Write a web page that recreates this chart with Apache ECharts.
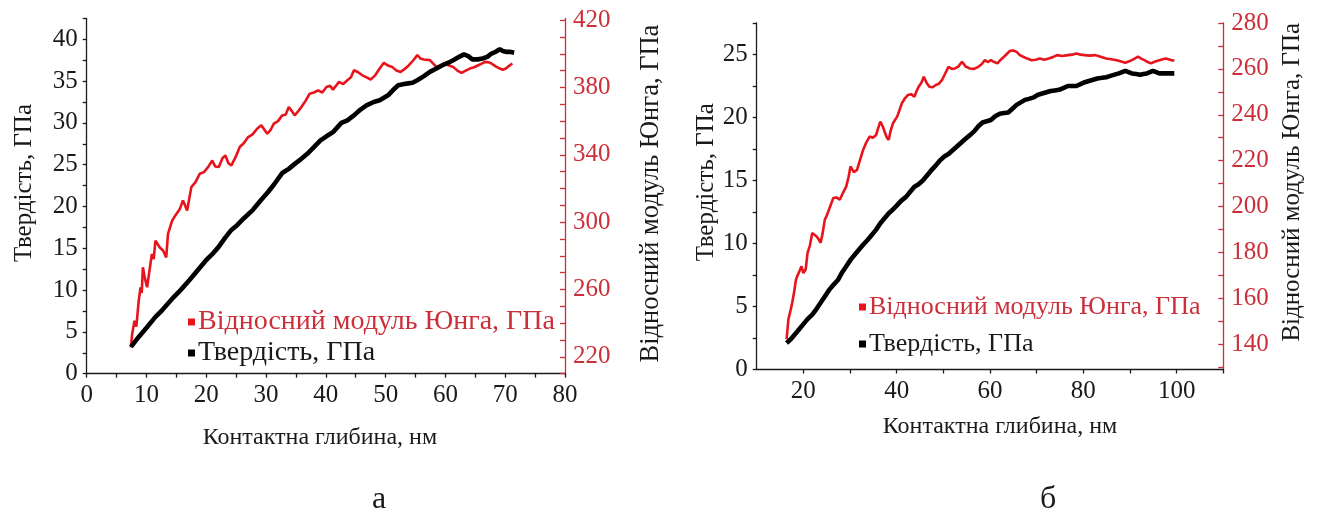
<!DOCTYPE html>
<html>
<head>
<meta charset="utf-8">
<script src="https://cdn.jsdelivr.net/npm/echarts@6/dist/echarts.min.js"></script>
<style>html,body{margin:0;padding:0;background:#fff}#c{width:1325px;height:515px}</style>
</head>
<body>
<div id="c"></div>
<script>
// ---------- names ----------
const nameModulus = 'Відносний модуль Юнга, ГПа';
const nameHardness = 'Твердість, ГПа';
const nameDepth = 'Контактна глибина, нм';
const panelLabels = ['а', 'б'];

// ---------- panel а : [depth nm, value] ----------
const hardnessA = [[7.4,3.2],[8.7,4.4],[10.0,5.5],[11.5,6.8],[12.5,7.5],[13.6,8.4],[14.6,9.2],[15.7,10.0],[17.2,11.2],[18.6,12.4],[20.0,13.6],[21.0,14.3],[22.1,15.2],[23.2,16.3],[24.2,17.2],[25.2,17.8],[26.3,18.6],[27.8,19.6],[29.2,20.8],[30.3,21.7],[31.3,22.6],[32.7,24.0],[33.8,24.5],[34.8,25.1],[35.9,25.7],[36.9,26.3],[38.0,27.1],[39.1,27.9],[40.1,28.4],[41.2,28.9],[42.6,30.0],[43.6,30.3],[44.7,30.9],[45.8,31.6],[46.8,32.1],[48.0,32.5],[49.0,32.7],[50.4,33.3],[51.2,33.9],[52.1,34.5],[53.5,34.7],[54.5,34.8],[55.3,35.1],[56.4,35.6],[57.4,36.1],[58.5,36.5],[59.5,36.9],[60.5,37.2],[61.3,37.5],[62.3,37.9],[63.1,38.2],[63.8,38.0],[64.5,37.6],[65.4,37.6],[66.2,37.7],[67.0,37.9],[67.7,38.3],[68.4,38.5],[69.1,38.8],[69.6,38.6],[70.1,38.5],[70.8,38.5],[71.5,38.4]];
const modulusA = [[7.4,225.6],[7.6,233.5],[8.0,241.4],[8.3,238],[8.7,253.3],[9.0,261.3],[9.2,258],[9.4,273.2],[9.7,267.2],[10.1,261.3],[10.5,271.2],[10.9,281.1],[11.2,278],[11.5,289.0],[12.2,285.1],[12.8,283],[13.3,279.1],[13.6,293.0],[14.3,301.0],[15.0,304.9],[15.6,308],[16.1,312.9],[16.8,306.9],[17.5,320.8],[18.2,323.8],[18.9,328.7],[19.6,329.7],[20.3,332.7],[21.0,336.6],[21.5,333],[22.1,332.7],[22.7,338],[23.2,339.6],[23.7,335],[24.2,333.7],[24.9,338.6],[25.6,344.6],[26.3,347],[27.0,350.5],[27.7,352],[28.5,355.5],[29.2,357.5],[29.7,355],[30.2,352.5],[30.8,355],[31.3,358.5],[32.0,360],[32.7,363.4],[33.3,364],[33.8,368.4],[34.3,366],[34.8,363.4],[35.4,366],[35.9,368.4],[36.6,372],[37.3,376.3],[38.0,377],[38.7,378.3],[39.4,377],[40.1,380.3],[40.7,381],[41.2,378.7],[41.7,381],[42.2,383.3],[42.9,382],[43.6,384.3],[44.2,386],[44.7,390.2],[45.4,389],[46.1,387.2],[46.8,386],[47.5,384.7],[48.2,387],[49.0,391.2],[49.7,394.6],[50.4,393],[51.1,392.2],[51.8,390],[52.5,389.2],[53.2,391],[53.9,393.2],[54.6,396],[55.3,399.2],[55.9,397],[56.4,396.6],[57.4,396.2],[58.0,394],[58.5,392.2],[59.2,393],[59.9,394.2],[60.6,393],[61.3,392.2],[62.0,390],[62.7,388.6],[63.4,390],[64.1,391.2],[64.8,392],[65.5,393.2],[66.0,394],[66.6,395.2],[67.2,395],[67.7,394.2],[68.4,392.5],[69.1,391.2],[69.6,390.5],[70.1,391.2],[70.7,393],[71.2,394.2]];

// ---------- panel б ----------
const hardnessB = [[16.4,2.1],[17.3,2.4],[18.2,2.8],[19.1,3.2],[20.0,3.6],[20.9,4.0],[21.9,4.35],[22.8,4.8],[23.7,5.3],[24.6,5.8],[25.5,6.3],[26.4,6.7],[27.4,7.1],[28.3,7.7],[29.2,8.2],[30.1,8.7],[31.0,9.1],[31.9,9.5],[32.8,9.9],[33.8,10.3],[34.7,10.7],[35.6,11.1],[36.5,11.6],[37.4,12.0],[38.3,12.4],[39.2,12.7],[40.1,13.05],[41.0,13.4],[42.0,13.7],[42.9,14.1],[43.8,14.5],[44.7,14.7],[45.6,15.0],[46.5,15.4],[47.4,15.8],[48.4,16.2],[49.3,16.6],[50.2,16.9],[51.1,17.1],[52.0,17.4],[52.9,17.7],[53.8,18.0],[54.7,18.3],[55.7,18.6],[56.6,18.9],[57.5,19.3],[58.4,19.6],[59.3,19.7],[60.2,19.8],[61.1,20.1],[62.1,20.3],[63.0,20.35],[63.9,20.4],[64.8,20.7],[65.7,21.0],[66.6,21.2],[67.5,21.4],[68.5,21.5],[69.4,21.6],[70.3,21.8],[71.2,21.9],[72.1,22.0],[73.0,22.1],[73.9,22.15],[74.8,22.2],[75.8,22.35],[76.7,22.5],[77.6,22.5],[78.5,22.5],[79.4,22.65],[80.3,22.8],[81.2,22.9],[82.1,23.0],[83.0,23.1],[84.0,23.15],[84.9,23.2],[85.8,23.3],[86.7,23.4],[87.6,23.5],[88.3,23.6],[89.0,23.7],[89.7,23.6],[90.4,23.5],[91.3,23.45],[92.2,23.4],[92.9,23.45],[93.6,23.5],[94.3,23.6],[94.9,23.7],[95.6,23.6],[96.3,23.5],[97.2,23.5],[98.1,23.5],[98.8,23.5],[99.5,23.5]];
const modulusB = [[16.4,142.2],[16.8,150.9],[17.3,155.2],[17.6,158],[18.0,162.4],[18.4,168],[18.7,169.7],[19.2,172],[19.6,174.0],[20.0,171],[20.5,172.6],[20.9,179.8],[21.4,183],[21.9,188.5],[22.3,189],[22.8,187.1],[23.2,186],[23.7,184.2],[24.1,188],[24.6,194.3],[25.0,196],[25.5,198.7],[25.9,199],[26.4,203.7],[27.1,204],[27.8,203.0],[28.5,206],[29.2,208.8],[29.7,213],[30.1,217.5],[30.8,215],[31.5,216.0],[32.1,220],[32.8,224.7],[33.5,228],[34.2,230.5],[34.9,230],[35.6,231.2],[36.0,234],[36.5,237.0],[37.0,235],[37.4,232.7],[37.9,230],[38.3,229.1],[38.7,233],[39.2,236.3],[39.6,237],[40.1,239.2],[40.6,242],[41.1,245.0],[41.7,247],[42.4,248.6],[43.1,249],[43.8,247.9],[44.2,250],[44.7,252.2],[45.3,254],[45.8,256.6],[46.4,254],[47.0,252.2],[47.7,252],[48.4,253.0],[49.0,253.5],[49.7,255.1],[50.4,258],[51.1,260.9],[51.8,260],[52.5,260.2],[53.2,261],[54.0,263.1],[54.8,261],[55.7,260.2],[56.6,260],[57.5,260.9],[58.2,262],[58.9,263.8],[59.5,263],[60.2,263.8],[60.9,263],[61.6,262.4],[62.3,264],[63.0,265.3],[63.6,266.5],[64.3,267.9],[65.0,268],[65.7,267.4],[66.4,266],[67.1,265.3],[68.0,264.5],[68.9,263.8],[69.8,264],[70.7,264.5],[71.6,264],[72.6,264.5],[73.5,265.2],[74.4,266.0],[75.5,265.6],[76.7,266.0],[77.6,266.2],[78.5,266.7],[79.4,266.2],[80.3,266.0],[81.4,265.8],[82.6,266.0],[83.7,265.3],[84.9,264.5],[86.0,264.2],[87.2,263.8],[88.1,263.2],[89.0,262.7],[89.7,263.2],[90.4,263.8],[91.0,264.5],[91.7,265.3],[92.4,264.5],[93.1,263.8],[93.8,263],[94.5,262.4],[95.4,263.2],[96.3,263.8],[97.0,264.2],[97.7,264.5],[98.6,264],[99.5,263.5]];

// ---------- ticks ----------
const ticksA_x = [0,5,10,15,20,25,30,35,40,45,50,55,60,65,70,75,80];
const labelsA_x = [0,10,20,30,40,50,60,70,80];
const ticksA_h = [0,2.5,5,7.5,10,12.5,15,17.5,20,22.5,25,27.5,30,32.5,35,37.5,40,42.5];
const labelsA_h = [0,5,10,15,20,25,30,35,40];
const ticksA_m = [210,220,230,240,250,260,270,280,290,300,310,320,330,340,350,360,370,380,390,400,410,420];
const labelsA_m = [220,260,300,340,380,420];

const ticksB_x = [20,30,40,50,60,70,80,90,100,110];
const labelsB_x = [20,40,60,80,100];
const ticksB_h = [0,2.5,5,7.5,10,12.5,15,17.5,20,22.5,25,27.5];
const labelsB_h = [0,5,10,15,20,25];
const ticksB_m = [130,140,150,160,170,180,190,200,210,220,230,240,250,260,270,280];
const labelsB_m = [140,160,180,200,220,240,260,280];

// ---------- style ----------
const FONT = '"Liberation Serif", "Times New Roman", serif';
const BLACK = '#1a1a1a';
const AXRED = '#cc2f3a';
const LINERED = '#e8141c';
const TICKFS = 25;

function xAxisCfg(grid, min, max, ticks, labels, gap, pad) {
  return {
    type: 'value', gridIndex: grid, min: min, max: max,
    name: nameDepth, nameLocation: 'middle', nameGap: gap,
    nameTextStyle: { fontFamily: FONT, fontSize: 24, color: BLACK, padding: pad },
    axisLine: { show: true, onZero: false, lineStyle: { color: BLACK, width: 1.3 } },
    axisTick: { show: true, length: 4, customValues: ticks, lineStyle: { color: BLACK, width: 1.3 } },
    axisLabel: { customValues: labels, fontFamily: FONT, fontSize: TICKFS, color: BLACK, margin: 9 },
    splitLine: { show: false }
  };
}
function yHardCfg(grid, max, ticks, labels, gap, pad) {
  return {
    type: 'value', gridIndex: grid, min: 0, max: max, position: 'left',
    name: nameHardness, nameLocation: 'middle', nameGap: gap,
    nameTextStyle: { fontFamily: FONT, fontSize: 25, color: BLACK, padding: pad },
    axisLine: { show: true, onZero: false, lineStyle: { color: BLACK, width: 1.3 } },
    axisTick: { show: true, length: 4, customValues: ticks, lineStyle: { color: BLACK, width: 1.3 } },
    axisLabel: { customValues: labels, fontFamily: FONT, fontSize: TICKFS, color: BLACK, margin: 9 },
    splitLine: { show: false }
  };
}
function yModCfg(grid, min, max, ticks, labels, gap, pad, fs) {
  return {
    type: 'value', gridIndex: grid, min: min, max: max, position: 'right',
    name: nameModulus, nameLocation: 'middle', nameGap: gap, nameRotate: 90,
    nameTextStyle: { fontFamily: FONT, fontSize: fs, color: BLACK, padding: pad },
    axisLine: { show: true, onZero: false, lineStyle: { color: AXRED, width: 1.3 } },
    axisTick: { show: true, inside: true, length: 5, customValues: ticks, lineStyle: { color: AXRED, width: 1.3 } },
    axisLabel: { customValues: labels, fontFamily: FONT, fontSize: TICKFS, color: AXRED, margin: 8 },
    splitLine: { show: false }
  };
}

const chart = echarts.init(document.getElementById('c'), null, { renderer: 'canvas' });
chart.setOption({
  backgroundColor: '#ffffff',
  animation: false,
  grid: [
    { left: 86.7, top: 18.4, width: 478.3, height: 355.3 },
    { left: 756.7, top: 23, width: 466.6, height: 346.5 }
  ],
  xAxis: [
    xAxisCfg(0, 0, 80, ticksA_x, labelsA_x, 52, [0, 12, 0, 0]),
    xAxisCfg(1, 10, 110, ticksB_x, labelsB_x, 45, [0, 0, 0, 20])
  ],
  yAxis: [
    yHardCfg(0, 42.5, ticksA_h, labelsA_h, 50, [0, 0, 0, 26]),
    yModCfg(0, 210, 421, ticksA_m, labelsA_m, 73, [0, 0, 0, 5], 26.5),
    yHardCfg(1, 27.5, ticksB_h, labelsB_h, 37, [0, 0, 0, 28]),
    yModCfg(1, 129, 280, ticksB_m, labelsB_m, 57, [0, 0, 0, 28], 25)
  ],
  legend: [
    {
      orient: 'vertical', left: 183, top: 303, itemWidth: 7, itemHeight: 7, itemGap: 3,
      icon: 'rect', selectedMode: false,
      textStyle: { fontFamily: FONT, fontSize: 28, lineHeight: 28, color: BLACK, padding: [0, 0, 0, -2] },
      data: [
        { name: nameModulus, textStyle: { color: AXRED } },
        { name: nameHardness, textStyle: { color: BLACK } }
      ]
    },
    {
      orient: 'vertical', left: 854, top: 289, itemWidth: 7, itemHeight: 7, itemGap: 11,
      icon: 'rect', selectedMode: false,
      textStyle: { fontFamily: FONT, fontSize: 26, lineHeight: 26, color: BLACK, padding: [0, 0, 0, -2] },
      data: [
        { name: nameModulus, textStyle: { color: AXRED } },
        { name: nameHardness, textStyle: { color: BLACK } }
      ]
    }
  ],
  series: [
    { name: nameModulus, type: 'line', xAxisIndex: 0, yAxisIndex: 1, data: modulusA, symbol: 'none',
      lineStyle: { color: LINERED, width: 2.6 }, itemStyle: { color: LINERED }, z: 2 },
    { name: nameHardness, type: 'line', xAxisIndex: 0, yAxisIndex: 0, data: hardnessA, symbol: 'none',
      lineStyle: { color: '#000', width: 4.6 }, itemStyle: { color: '#000' }, z: 3 },
    { name: nameModulus, type: 'line', xAxisIndex: 1, yAxisIndex: 3, data: modulusB, symbol: 'none',
      lineStyle: { color: LINERED, width: 2.6 }, itemStyle: { color: LINERED }, z: 2 },
    { name: nameHardness, type: 'line', xAxisIndex: 1, yAxisIndex: 2, data: hardnessB, symbol: 'none',
      lineStyle: { color: '#000', width: 4.6 }, itemStyle: { color: '#000' }, z: 3 }
  ],
  graphic: [
    { type: 'text', left: 372, top: 484, style: { text: panelLabels[0], fontFamily: FONT, fontSize: 32, fill: BLACK } },
    { type: 'text', left: 1040, top: 484, style: { text: panelLabels[1], fontFamily: FONT, fontSize: 32, fill: BLACK } }
  ]
});
</script>
</body>
</html>
